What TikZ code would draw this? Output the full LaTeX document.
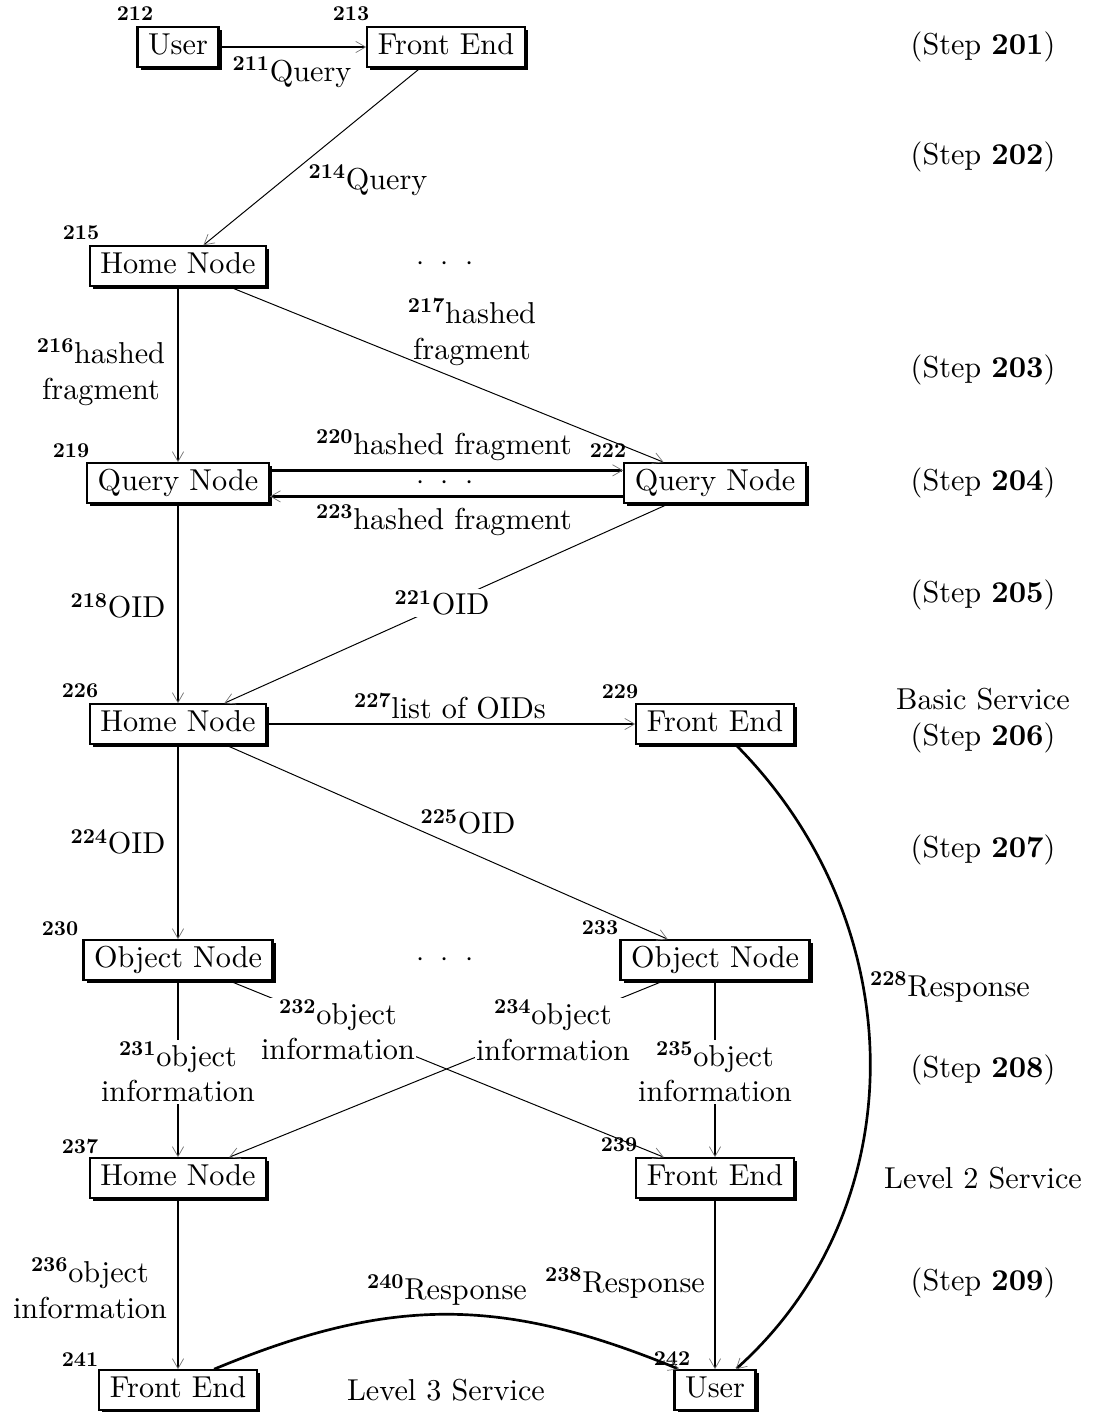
\documentclass[tikz,border=0pt]{standalone}
\usepackage{fontspec}
\setmainfont{lmroman10}[Extension=.otf, UprightFont=*-regular, BoldFont=*-bold, ItalicFont=*-italic, BoldItalicFont=*-bolditalic]
\usepackage{tikz}
\usetikzlibrary{arrows.meta, shadows, positioning, calc}
\newcommand{\tagnum}[1]{\textsuperscript{\bfseries #1}}
\newcommand{\threedots}{$\cdot$\hspace{0.55em}$\cdot$\hspace{0.55em}$\cdot$}
\tikzset{
    flow box/.style={
        draw,
        fill=white,
        line width=1.6pt,
        drop shadow={shadow xshift=2.2pt, shadow yshift=-2.2pt, fill=black, opacity=1},
        inner xsep=7.5pt,
        inner ysep=3.5pt,
        text height=15.5pt,
        text depth=5.5pt
    },
    ref num/.style={
        font=\fontsize{15}{18}\selectfont\bfseries,
        inner sep=0pt
    },
    heavy edge/.style={
        line width=1.9pt
    },
    light edge/.style={
        line width=0.7pt
    },
    arrow end/.style={
        -{Straight Barb[length=7pt, width=8pt, line width=0.5pt, color=black!55]}
    },
    msg/.style={
        align=center,
        inner sep=1pt
    },
    msg cut/.style={
        msg,
        fill=white
    }
}

\begin{document}
\begin{tikzpicture}[x=0.025cm, y=-0.025cm, font=\fontsize{21.5}{25.5}\selectfont]
    \useasboundingbox (0,0) rectangle (1093,1412);

    % Boxes
    \node[flow box] (user1) at (178,47) {User};
    \node[flow box] (fe1) at (446,47) {Front End};
    \node[flow box] (hn1) at (178,266) {Home Node};
    \node[flow box] (qn1) at (178,483) {Query Node};
    \node[flow box] (qn2) at (715,483) {Query Node};
    \node[flow box] (hn2) at (178,724) {Home Node};
    \node[flow box] (fe2) at (715,724) {Front End};
    \node[flow box] (on1) at (178,960) {Object Node};
    \node[flow box] (on2) at (715,960) {Object Node};
    \node[flow box] (hn3) at (178,1178) {Home Node};
    \node[flow box] (fe3) at (715,1178) {Front End};
    \node[flow box] (fe4) at (178,1390) {Front End};
    \node[flow box] (user2) at (715,1390) {User};

    % Reference numbers of the boxes
    \node[ref num] (n212) at (135,14) {212};
    \node[ref num] (n213) at (351,14) {213};
    \node[ref num] (n215) at (81,233) {215};
    \node[ref num] (n219) at (71,451) {219};
    \node[ref num] (n222) at (608,451) {222};
    \node[ref num] (n226) at (80,691) {226};
    \node[ref num] (n229) at (620,692) {229};
    \node[ref num] (n230) at (60,929) {230};
    \node[ref num] (n233) at (600,928) {233};
    \node[ref num] (n237) at (80,1146) {237};
    \node[ref num] (n239) at (619,1145) {239};
    \node[ref num] (n241) at (80,1360) {241};
    \node[ref num] (n242) at (672,1359) {242};

    % Dots between parallel boxes
    \node (dots1) at (445,264) {\threedots};
    \node (dots2) at (445,483) {\threedots};
    \node (dots3) at (445,960) {\threedots};

    % Messages
    \draw[heavy edge, arrow end] (user1) -- (fe1);
    \draw[light edge, arrow end] (fe1) -- (hn1);
    \draw[heavy edge, arrow end] (hn1) -- (qn1);
    \draw[light edge, arrow end] (hn1) -- (qn2);
    \draw[heavy edge, arrow end] ([yshift=9pt]qn1.east) -- ([yshift=9pt]qn2.west);
    \draw[heavy edge, arrow end] ([yshift=-9.5pt]qn2.west) -- ([yshift=-9.5pt]qn1.east);
    \draw[heavy edge, arrow end] (qn1) -- (hn2);
    \draw[light edge, arrow end] (qn2) -- (hn2);
    \draw[heavy edge, arrow end] (hn2) -- (fe2);
    \draw[heavy edge, arrow end] (hn2) -- (on1);
    \draw[light edge, arrow end] (hn2) -- (on2);
    \draw[heavy edge, arrow end] (fe2.-45) .. controls (915,925) and (915,1209) .. (user2.45);
    \draw[heavy edge, arrow end] (on1) -- (hn3);
    \draw[light edge, arrow end] (on1) -- (fe3);
    \draw[light edge, arrow end] (on2) -- (hn3);
    \draw[heavy edge, arrow end] (on2) -- (fe3);
    \draw[heavy edge, arrow end] (hn3) -- (fe4);
    \draw[heavy edge, arrow end] (fe3) -- (user2);
    \draw[heavy edge, arrow end] (fe4.30) .. controls (390,1296) and (502,1296) .. (user2.150);

    % Message labels
    \node[msg] (m211) at (292,72) {\tagnum{211}Query};
    \node[msg] (m214) at (368,180) {\tagnum{214}Query};
    \node[msg] (m216) at (101,372) {\tagnum{216}hashed\\fragment};
    \node[msg] (m217) at (472,332) {\tagnum{217}hashed\\fragment};
    \node[msg] (m220) at (444,445) {\tagnum{220}hashed fragment};
    \node[msg] (m223) at (444,520) {\tagnum{223}hashed fragment};
    \node[msg] (m218) at (118,606) {\tagnum{218}OID};
    \node[msg cut] (m221) at (442,603) {\tagnum{221}OID};
    \node[msg] (m227) at (450,706) {\tagnum{227}list of OIDs};
    \node[msg] (m224) at (118,842) {\tagnum{224}OID};
    \node[msg] (m225) at (468,822) {\tagnum{225}OID};
    \node[msg] (m228) at (950,987) {\tagnum{228}Response};
    \node[msg cut] (m231) at (178,1072) {\tagnum{231}object\\information};
    \node[msg cut] (m232) at (338,1030) {\tagnum{232}object\\information};
    \node[msg cut] (m234) at (553,1030) {\tagnum{234}object\\information};
    \node[msg cut] (m235) at (715,1072) {\tagnum{235}object\\information};
    \node[msg] (m236) at (90,1288) {\tagnum{236}object\\information};
    \node[msg] (m240) at (447,1290) {\tagnum{240}Response};
    \node[msg] (m238) at (625,1283) {\tagnum{238}Response};

    % Steps and service levels
    \node (s201) at (983,47) {(Step \textbf{201})};
    \node (s202) at (983,157) {(Step \textbf{202})};
    \node (s203) at (983,370) {(Step \textbf{203})};
    \node (s204) at (983,483) {(Step \textbf{204})};
    \node (s205) at (983,595) {(Step \textbf{205})};
    \node[align=center] (s206) at (983,721) {Basic Service\\(Step \textbf{206})};
    \node (s207) at (983,850) {(Step \textbf{207})};
    \node (s208) at (983,1070) {(Step \textbf{208})};
    \node (lvl2) at (983,1178) {Level 2 Service};
    \node (s209) at (983,1283) {(Step \textbf{209})};
    \node (lvl3) at (446,1390) {Level 3 Service};
\end{tikzpicture}
\end{document}
